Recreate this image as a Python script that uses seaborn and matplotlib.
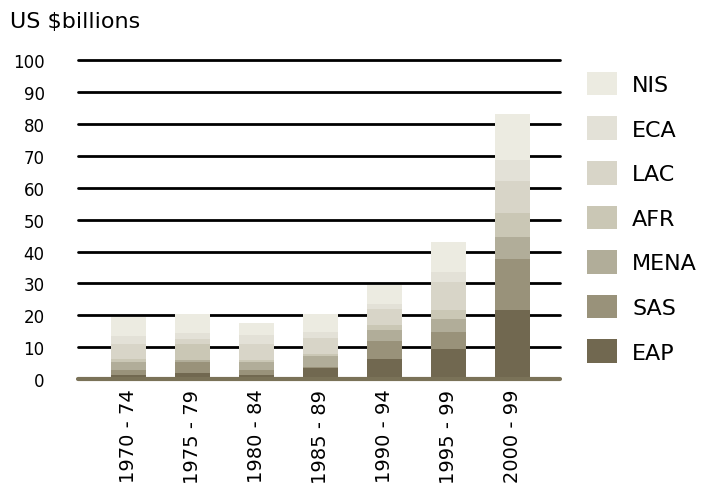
import numpy as np
import pandas as pd
import matplotlib
matplotlib.use("Agg")
import matplotlib.pyplot as plt
from matplotlib.patches import Patch
import seaborn as sns

periods = ["1970 - 74", "1975 - 79", "1980 - 84", "1985 - 89",
           "1990 - 94", "1995 - 99", "2000 - 99"]
regions = ["EAP", "SAS", "MENA", "AFR", "LAC", "ECA", "NIS"]

eap = [1.2, 1.9, 1.25, 3.4, 6.25, 9.4, 21.7]
sas = [1.6, 3.3, 1.65, 0.5, 5.75, 5.2, 16.0]
mena = [2.6, 0.7, 2.3, 3.2, 3.4, 4.15, 6.8]
afr = [0.8, 5.0, 0.8, 0.7, 1.5, 2.95, 7.6]
lac = [4.7, 1.8, 4.9, 5.2, 5.2, 8.7, 10.1]
eca = [2.6, 1.8, 2.85, 1.8, 1.5, 3.1, 6.55]
nis = [5.8, 5.8, 3.95, 5.5, 5.8, 9.5, 14.25]

colors = {
    "EAP": "#716850",
    "SAS": "#99927a",
    "MENA": "#b1ad99",
    "AFR": "#cac7b5",
    "LAC": "#d8d5c8",
    "ECA": "#e3e1d7",
    "NIS": "#ecebe1",
}

df = pd.DataFrame({"period": periods, "EAP": eap, "SAS": sas, "MENA": mena,
                   "AFR": afr, "LAC": lac, "ECA": eca, "NIS": nis})
cum = df[regions].cumsum(axis=1)

sns.set_style("white")
plt.rcParams["font.family"] = ["DejaVu Sans"]
plt.rcParams["text.color"] = "black"
plt.rcParams["xtick.color"] = "black"
plt.rcParams["ytick.color"] = "black"

fig = plt.figure(figsize=(7.22, 5.02), dpi=100)
ax = fig.add_axes([0.108, 0.243, 0.668, 0.635])

# horizontal rules behind the bars
for v in range(10, 101, 10):
    ax.axhline(v, color="black", lw=2, zorder=0, clip_on=False)

# stacked bars: draw cumulative totals from the top segment downwards
for reg in reversed(regions):
    sns.barplot(x=df["period"], y=cum[reg], color=colors[reg], width=0.55,
                saturation=1, linewidth=0, ax=ax, zorder=2)

ax.axhline(0, color="#7a7258", lw=3, zorder=3, clip_on=False)

ax.set_ylim(0, 100)
ax.set_xlim(-0.79, 6.74)
ax.set_yticks(range(0, 101, 10))
ax.set_yticklabels([str(v) for v in range(0, 101, 10)], fontsize=12)
ax.tick_params(axis="y", length=0, pad=24)
ax.tick_params(axis="x", length=0, pad=7)
ax.set_xticks(range(len(periods)))
ax.set_xticklabels(periods, rotation=90, fontsize=14, va="top")
ax.set_xlabel("")
ax.set_ylabel("")
for s in ax.spines.values():
    s.set_visible(False)

fig.text(0.014, 0.957, "US $billions", fontsize=16, ha="left", va="center")

handles = [Patch(facecolor=colors[r], edgecolor="none", label=r)
           for r in reversed(regions)]
fig.legend(handles=handles, loc="upper left", bbox_to_anchor=(0.813, 0.855),
           frameon=False, fontsize=16, handlelength=1.35, handleheight=1.25,
           labelspacing=0.95, handletextpad=0.68, borderpad=0,
           borderaxespad=0)

fig.savefig("out.png", dpi=100)
